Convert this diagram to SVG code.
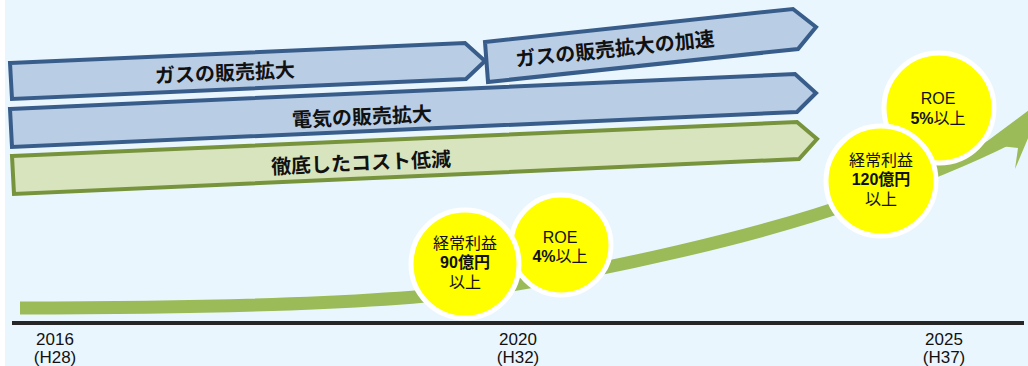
<svg xmlns="http://www.w3.org/2000/svg" width="1028" height="366" viewBox="0 0 1028 366">
<style>
.blue{fill:#B9CDE5;stroke:#385D8A;stroke-width:4;stroke-linejoin:miter}
.green{fill:#D7E4BD;stroke:#77933C;stroke-width:4;stroke-linejoin:miter}
.lbl{font-family:"Noto Sans CJK JP","Noto Sans",sans-serif;font-weight:bold;font-size:20px;fill:#111;text-anchor:middle}
.circ{fill:#FFFF00;stroke:#FFFFFF;stroke-width:5}
.ct{font-family:"Liberation Sans","Noto Sans CJK JP",sans-serif;font-size:16px;fill:#111;text-anchor:middle}
.b{font-weight:bold}
.ax{font-family:"Liberation Sans","Noto Sans CJK JP",sans-serif;font-size:17px;fill:#111;text-anchor:middle}
</style>
<rect x="5" y="0" width="1023" height="366" fill="#EAF6FE"/>

<g id="arrow-gas">
<polygon class="blue" points="10,63 465,43 485,61 466,79 12,99"/>
<text class="lbl" transform="translate(225,73) rotate(-2.5)" y="7">ガスの販売拡大</text>
</g>
<g id="arrow-gas-accel">
<polygon class="blue" points="485,42 793,9 816,27 798,49 488,82"/>
<text class="lbl" transform="translate(615,49) rotate(-6)" y="7">ガスの販売拡大の加速</text>
</g>
<g id="arrow-elec">
<polygon class="blue" points="10,109 795,74 816,93 797,112 12,147"/>
<text class="lbl" transform="translate(362,117) rotate(-2.5)" y="7">電気の販売拡大</text>
</g>
<g id="arrow-cost">
<polygon class="green" points="12,156 797,122 817,139 799,159 14,194"/>
<text class="lbl" transform="translate(361,163) rotate(-2.5)" y="7">徹底したコスト低減</text>
</g>

<g id="connectors">
<path d="M20,308 C200,308 380,304 480,290 C600,272 760,236 860,200 C920,178 965,160 1005,140" fill="none" stroke="#9BBB59" stroke-width="13"/>
<polygon points="986,142 1045,98 1015,169 1018,148 1000,146" fill="#9BBB59"/>
<line x1="12" y1="323" x2="1024" y2="323" stroke="#262626" stroke-width="4"/>
</g>

<g id="roe4">
<circle class="circ" cx="561" cy="245" r="50"/>
<text class="ct" x="560" y="243">ROE</text>
<text class="ct" x="560" y="262"><tspan class="b">4%</tspan>以上</text>
</g>
<g id="profit90">
<circle class="circ" cx="465" cy="264" r="54"/>
<text class="ct" x="465" y="249">経常利益</text>
<text class="ct b" x="465" y="268">90億円</text>
<text class="ct" x="465" y="288">以上</text>
</g>
<g id="roe5">
<circle class="circ" cx="939" cy="108" r="55"/>
<text class="ct" x="938" y="104">ROE</text>
<text class="ct" x="938" y="124"><tspan class="b">5%</tspan>以上</text>
</g>
<g id="profit120">
<circle class="circ" cx="881" cy="181" r="55"/>
<text class="ct" x="881" y="166">経常利益</text>
<text class="ct b" x="881" y="185">120億円</text>
<text class="ct" x="881" y="205">以上</text>
</g>

<g id="axis-labels">
<text class="ax" x="55" y="345">2016</text>
<text class="ax" x="55" y="363">(H28)</text>
<text class="ax" x="518" y="345">2020</text>
<text class="ax" x="518" y="363">(H32)</text>
<text class="ax" x="944" y="345">2025</text>
<text class="ax" x="944" y="363">(H37)</text>
</g>
</svg>
